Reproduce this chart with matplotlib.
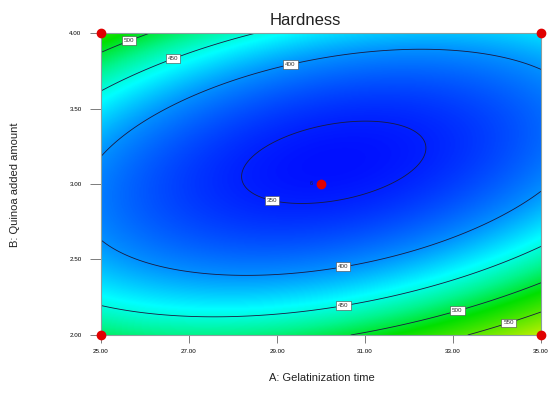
import numpy as np
import matplotlib.pyplot as plt
from matplotlib.colors import LinearSegmentedColormap

plt.rcParams['font.family'] = ['Liberation Sans', 'DejaVu Sans']

# points: A (gelatinization time), B (quinoa amount), hardness
pt_a = [25.02, 26.16, 25.61,
        25.02, 28.61, 26.61,
        25.02, 28.39, 29.30, 31.80, 35.00,
        25.02, 25.89, 28.77, 30.50, 31.34, 35.00,
        28.11, 32.43, 30.27, 29.75, 28.89,
        25.02, 27.41, 30.50, 33.84, 35.00,
        30.84, 33.09, 35.00,
        33.45, 34.25, 35.00]
pt_b = [3.87, 3.99, 3.97,
        3.61, 3.99, 3.85,
        3.19, 3.71, 3.80, 3.87, 3.78,
        2.64, 2.49, 2.39, 2.46, 2.51, 2.94,
        3.04, 3.21, 3.36, 2.84, 2.89,
        2.21, 2.11, 2.21, 2.43, 2.57,
        1.99, 2.17, 2.33,
        1.99, 2.09, 2.19]
pt_h = [500] * 3 + [450] * 3 + [400] * 5 + [400] * 6 + [350] * 5 + [450] * 5 + [500] * 3 + [550] * 3

levels = [350, 400, 450, 500, 550]
label_pos = [(25.61, 3.97), (26.61, 3.85), (29.30, 3.80), (28.89, 2.89),
             (30.50, 2.46), (30.50, 2.21), (33.09, 2.17), (34.25, 2.09)]
design_a = [25, 25, 35, 35, 30]
design_b = [2, 4, 2, 4, 3]

# quadratic response surface fitted to the read points
pa = np.array(pt_a); pb = np.array(pt_b)
X = np.column_stack([np.ones_like(pa), pa, pb, pa * pb, pa ** 2, pb ** 2])
coef = np.linalg.lstsq(X, np.array(pt_h, float), rcond=None)[0]

ga, gb = np.meshgrid(np.linspace(25, 35, 400), np.linspace(2, 4, 400))
gz = (coef[0] + coef[1] * ga + coef[2] * gb + coef[3] * ga * gb
      + coef[4] * ga ** 2 + coef[5] * gb ** 2)

vmin, vmax = 335, 600
nodes = [(335, '#0000ff'), (400, '#0090ff'), (440, '#00ffff'), (475, '#00f590'),
         (515, '#00e000'), (600, '#c8f000')]
cmap = LinearSegmentedColormap.from_list(
    'dx', [((v - vmin) / (vmax - vmin), c) for v, c in nodes])

fig = plt.figure(figsize=(5.48, 4.01), dpi=100)
ax = fig.add_axes([0.1843, 0.1646, 0.8029, 0.7531])
ax.imshow(gz, extent=[25, 35, 2, 4], origin='lower', aspect='auto',
          cmap=cmap, vmin=vmin, vmax=vmax, interpolation='bilinear')
CS = ax.contour(ga, gb, gz, levels=levels, colors='#1a1a40', linewidths=0.6)
lbls = ax.clabel(CS, fmt='%d', fontsize=4.5, inline=True, inline_spacing=2,
                 manual=label_pos)
for t in lbls:
    t.set_rotation(0)
    t.set_color('#333333')
    t.set_bbox(dict(boxstyle='square,pad=0.3', fc='white', ec='#444444', lw=0.4))

ax.plot(design_a, design_b, 'o', color='#e00000', ms=6, clip_on=False, zorder=5)
ax.text(29.82, 3.0, '6', fontsize=4, color='#222222', ha='right', va='center')

ax.set_xlim(25, 35)
ax.set_ylim(2, 4)
ax.set_xticks([25, 27, 29, 31, 33, 35])
ax.set_yticks([2.0, 2.5, 3.0, 3.5, 4.0])
ax.set_xticklabels(['25.00', '27.00', '29.00', '31.00', '33.00', '35.00'])
ax.set_yticklabels(['2.00', '2.50', '3.00', '3.50', '4.00'])
ax.tick_params(axis='x', length=6, width=0.6, color='#666666', labelsize=4.5, pad=4)
ax.tick_params(axis='y', length=8, width=0.6, color='#666666', labelsize=4.5, pad=6)
for s in ax.spines.values():
    s.set_color('#8aa0a0')
    s.set_linewidth(0.8)

fig.text(0.558, 0.948, 'Hardness', fontsize=12, color='#222222',
         ha='center', va='center')
fig.text(0.588, 0.057, 'A: Gelatinization time', fontsize=8, color='#222222',
         ha='center', va='center')
fig.text(0.028, 0.54, 'B: Quinoa added amount', fontsize=8, color='#222222',
         ha='center', va='center', rotation=90)

fig.savefig('out.png', dpi=100)
